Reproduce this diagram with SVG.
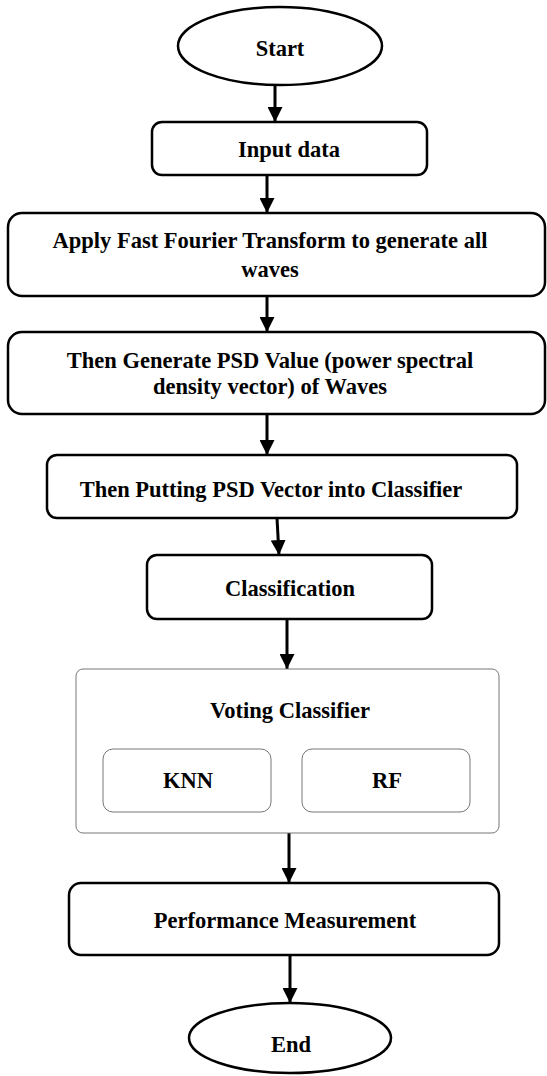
<svg xmlns="http://www.w3.org/2000/svg" width="547" height="1076" viewBox="0 0 547 1076">
<style>
.n{fill:#fff;stroke:#000;stroke-width:2.5}
.s{fill:#fff;stroke:#777;stroke-width:1}
.t{font-family:"Liberation Serif","Times New Roman",serif;font-weight:bold;font-size:22.5px;fill:#000;text-anchor:middle}
.c{stroke:#000;stroke-width:3;fill:none;marker-end:url(#ah)}
</style>
<defs>
<marker id="ah" viewBox="0 0 10 10" refX="10" refY="5" markerWidth="5" markerHeight="5" orient="auto" markerUnits="strokeWidth">
<path d="M0,0 L10,5 L0,10 z" fill="#000"/>
</marker>
</defs>
<rect width="547" height="1076" fill="#fff"/>
<g id="connectors">
<line class="c" x1="275" y1="85" x2="275" y2="122"/>
<line class="c" x1="267" y1="175" x2="267" y2="213"/>
<line class="c" x1="267" y1="296" x2="267" y2="332"/>
<line class="c" x1="267" y1="414" x2="267" y2="455"/>
<line class="c" x1="277" y1="518" x2="279" y2="555"/>
<line class="c" x1="287" y1="619" x2="287" y2="669"/>
<line class="c" x1="289" y1="833" x2="289" y2="883"/>
<line class="c" x1="290" y1="955" x2="290" y2="1003"/>
</g>
<g id="start">
<ellipse class="n" cx="280" cy="46" rx="102" ry="39"/>
<text class="t" x="280" y="56">Start</text>
</g>
<g id="input">
<rect class="n" x="152" y="122" width="275" height="53" rx="10"/>
<text class="t" x="289" y="157">Input data</text>
</g>
<g id="fft">
<rect class="n" x="8" y="213" width="537" height="83" rx="14"/>
<text class="t" x="270" y="248">Apply Fast Fourier Transform to generate all</text>
<text class="t" x="270" y="277">waves</text>
</g>
<g id="psd">
<rect class="n" x="8" y="332" width="537" height="82" rx="14"/>
<text class="t" x="270" y="368">Then Generate PSD Value (power spectral</text>
<text class="t" x="270" y="394">density vector) of Waves</text>
</g>
<g id="putting">
<rect class="n" x="47" y="455" width="470" height="63" rx="10"/>
<text class="t" x="271" y="497">Then Putting PSD Vector into Classifier</text>
</g>
<g id="classification">
<rect class="n" x="147" y="555" width="285" height="64" rx="10"/>
<text class="t" x="290" y="596">Classification</text>
</g>
<g id="voting">
<rect class="s" x="76" y="669" width="423" height="164" rx="7"/>
<text class="t" x="290" y="718">Voting Classifier</text>
</g>
<g id="knn">
<rect class="s" x="103" y="749" width="168" height="63" rx="10"/>
<text class="t" x="188" y="788">KNN</text>
</g>
<g id="rf">
<rect class="s" x="302" y="749" width="168" height="63" rx="10"/>
<text class="t" x="387" y="788">RF</text>
</g>
<g id="performance">
<rect class="n" x="69" y="883" width="430" height="72" rx="12"/>
<text class="t" x="285" y="928">Performance Measurement</text>
</g>
<g id="end">
<ellipse class="n" cx="290" cy="1038" rx="101" ry="35"/>
<text class="t" x="291" y="1052">End</text>
</g>
</svg>
